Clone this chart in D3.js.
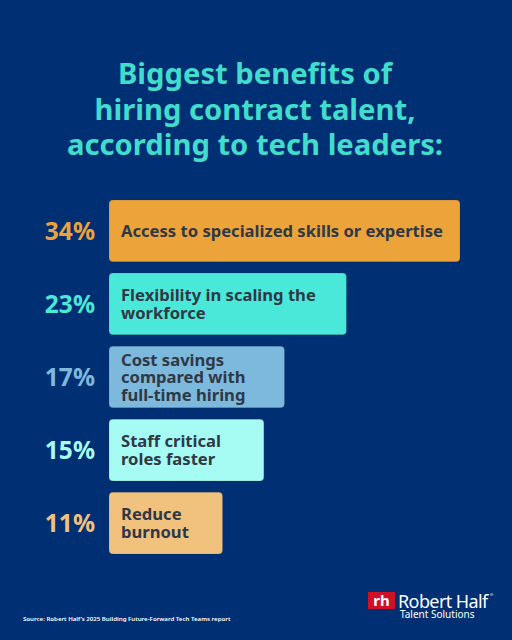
<!DOCTYPE html>
<html>
<head>
  <meta charset="utf-8">
  <script src="https://cdn.jsdelivr.net/npm/d3@7"></script>
  <style>
    body { margin: 0; background: #003073; }
    svg { display: block; font-family: "Noto Sans", "Open Sans", sans-serif; }
  </style>
</head>
<body>
  <div id="chart"></div>
  <script>
    // data
    var labels = [
      ['Access to specialized skills or expertise'],
      ['Flexibility in scaling the', 'workforce'],
      ['Cost savings', 'compared with', 'full-time hiring'],
      ['Staff critical', 'roles faster'],
      ['Reduce', 'burnout']
    ];
    var values = [34, 23, 17, 15, 11];
    var colors = ['#eba33a', '#4ae8d8', '#7cb9dc', '#a6fcf2', '#f0c27e'];
    var titleLines = ['Biggest benefits of', 'hiring contract talent,', 'according to tech leaders:'];

    var W = 512, H = 640;
    var svg = d3.select('#chart').append('svg').attr('width', W).attr('height', H);
    svg.append('rect').attr('width', W).attr('height', H).attr('fill', '#003073');

    // title
    svg.append('g').selectAll('text').data(titleLines).enter().append('text')
      .attr('x', 255)
      .attr('y', function (d, i) { return 84 + i * 35.5; })
      .attr('text-anchor', 'middle')
      .attr('fill', '#42dccd')
      .attr('font-size', 29.2)
      .attr('font-weight', 700)
      .text(function (d) { return d; });

    var x = d3.scaleLinear().domain([0, 34]).range([109, 460]);
    var y = d3.scaleBand().domain(d3.range(values.length)).range([200, 554]).paddingInner(0.155);

    var rows = svg.append('g').selectAll('g').data(values).enter().append('g');

    rows.append('rect')
      .attr('x', x(0))
      .attr('y', function (d, i) { return y(i); })
      .attr('width', function (d) { return x(d) - x(0); })
      .attr('height', y.bandwidth())
      .attr('rx', 4)
      .attr('fill', function (d, i) { return colors[i]; })
      .attr('stroke', 'rgba(0,0,0,0.15)')
      .attr('stroke-width', 0.8);

    rows.append('text')
      .attr('x', 95)
      .attr('y', function (d, i) { return y(i) + y.bandwidth() / 2 + 9; })
      .attr('text-anchor', 'end')
      .attr('fill', function (d, i) { return colors[i]; })
      .attr('font-size', 24.5)
      .attr('font-weight', 700)
      .text(function (d) { return d + '%'; });

    rows.each(function (d, i) {
      var lines = labels[i];
      var lh = 17.5;
      var cy = y(i) + y.bandwidth() / 2;
      var y0 = cy - (lines.length - 1) * lh / 2 + 6;
      d3.select(this).append('text')
        .attr('fill', '#2f3846')
        .attr('font-size', 16.6)
        .attr('font-weight', 700)
        .selectAll('tspan').data(lines).enter().append('tspan')
        .attr('x', 121)
        .attr('y', function (l, j) { return y0 + j * lh; })
        .text(function (l) { return l; });
    });

    // source
    svg.append('text')
      .attr('x', 23).attr('y', 621)
      .attr('fill', '#ffffff')
      .attr('font-size', 6.1)
      .attr('font-weight', 600)
      .text('Source: Robert Half\u2019s 2025 Building Future-Forward Tech Teams report');

    // logo
    var logo = svg.append('g');
    logo.append('rect').attr('x', 368).attr('y', 592).attr('width', 27).attr('height', 17).attr('fill', '#ce1126');
    logo.append('text').attr('x', 381.5).attr('y', 606).attr('text-anchor', 'middle')
      .attr('fill', '#fff').attr('font-size', 15).attr('font-weight', 700).text('rh');
    logo.append('text').attr('x', 398).attr('y', 608)
      .attr('fill', '#fff').attr('font-size', 18).attr('letter-spacing', -0.6).text('Robert Half');
    logo.append('text').attr('x', 490).attr('y', 596)
      .attr('fill', '#fff').attr('font-size', 4).text('\u00ae');
    logo.append('text').attr('x', 400).attr('y', 618)
      .attr('fill', '#fff').attr('font-size', 10).text('Talent Solutions');
  </script>
</body>
</html>
